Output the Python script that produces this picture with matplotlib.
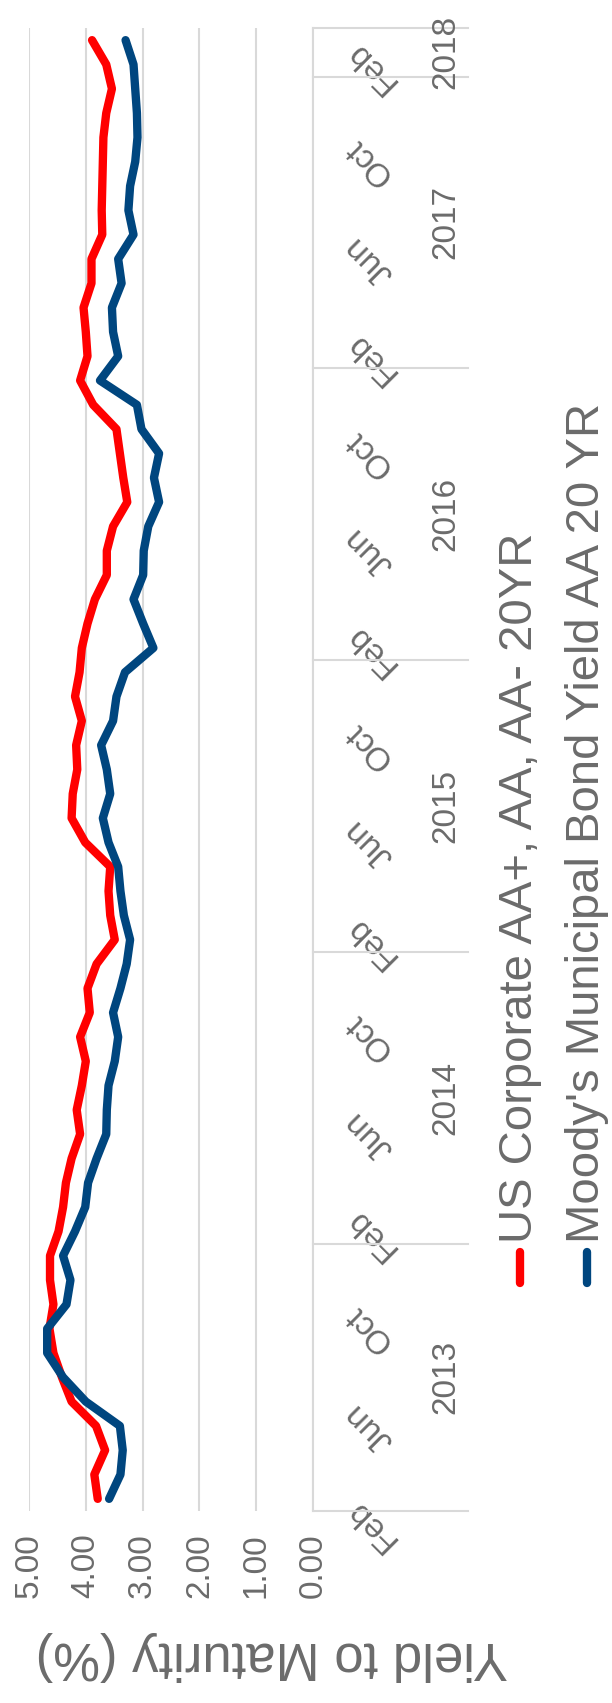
import matplotlib
matplotlib.use('Agg')
import matplotlib.pyplot as plt
import matplotlib.transforms as mtransforms
from matplotlib.lines import Line2D

plt.rcParams['font.family'] = ['Liberation Sans', 'DejaVu Sans']

# monthly yields, Feb 2013 .. Feb 2018
corporate = [3.79, 3.85, 3.66, 3.82, 4.25, 4.42, 4.57, 4.64, 4.57, 4.63,
             4.63, 4.48, 4.40, 4.35, 4.25, 4.10, 4.16, 4.07, 4.00, 4.10,
             3.93, 3.97, 3.81, 3.49, 3.57, 3.60, 3.57, 4.01, 4.25, 4.23,
             4.15, 4.17, 4.07, 4.19, 4.11, 4.07, 3.97, 3.84, 3.63, 3.63,
             3.52, 3.27, 3.34, 3.40, 3.46, 3.87, 4.10, 3.97, 4.00, 4.04,
             3.90, 3.90, 3.71, 3.72, 3.71, 3.70, 3.69, 3.64, 3.54, 3.64,
             3.89]
municipal = [3.59, 3.39, 3.35, 3.40, 4.00, 4.40, 4.68, 4.68, 4.34, 4.27,
             4.40, 4.19, 4.01, 3.96, 3.81, 3.64, 3.63, 3.60, 3.49, 3.43,
             3.52, 3.39, 3.28, 3.22, 3.33, 3.39, 3.43, 3.60, 3.70, 3.57,
             3.63, 3.73, 3.52, 3.46, 3.31, 2.81, 2.99, 3.16, 2.99, 2.98,
             2.90, 2.71, 2.80, 2.71, 3.02, 3.10, 3.75, 3.43, 3.52, 3.54,
             3.37, 3.43, 3.16, 3.25, 3.22, 3.13, 3.09, 3.10, 3.13, 3.16,
             3.30]
month_labels = ['Feb', 'Jun', 'Oct'] * 5 + ['Feb']
years = ['2013', '2014', '2015', '2016', '2017', '2018']
months_in_year = [11, 12, 12, 12, 12, 2]
series_names = ['US Corporate AA+, AA, AA- 20YR',
                "Moody's Municipal Bond Yield AA 20 YR"]
colors = ['#ff0000', '#00467f']
value_ticks = [5, 4, 3, 2, 1, 0]

gray = '#6b6b6b'
grid_gray = '#d9d9d9'
W, H = 612, 1703

fig = plt.figure(figsize=(W / 100, H / 100), dpi=100)
ax = fig.add_axes([29 / W, 192 / H, 284 / W, 1483 / H])

idx = list(range(len(corporate)))
for vals, c, z in zip([corporate, municipal], colors, [3, 4]):
    ax.plot(vals, idx, color=c, lw=6, solid_capstyle='round',
            solid_joinstyle='round', zorder=z)

ax.set_xlim(5, 0)
ax.set_ylim(-0.5, len(corporate) - 0.5)

ax.set_xticks(value_ticks)
ax.set_xticklabels([f'{v:.2f}' for v in value_ticks])
ax.tick_params(axis='x', length=0, labelrotation=90, pad=16,
               labelsize=24, labelcolor=gray)
ax.grid(axis='x', color=grid_gray, lw=1.5)
ax.set_axisbelow(True)

for s in ['top', 'left', 'bottom']:
    ax.spines[s].set_visible(False)
ax.spines['right'].set_color(grid_gray)
ax.spines['right'].set_linewidth(1.5)

# month labels on the date axis
ax.yaxis.tick_right()
ax.set_yticks(idx[::4])
ax.set_yticklabels(month_labels)
ax.tick_params(axis='y', length=0, pad=31.5, labelsize=24, labelcolor=gray)
for lab in ax.get_yticklabels():
    lab.set_rotation(135)
    lab.set_rotation_mode('anchor')
    lab.set_ha('right')
    lab.set_va('baseline')

# year groups with separators
trans = mtransforms.blended_transform_factory(ax.transAxes, ax.transData)
start = 0
for yr, n in zip(years, months_in_year):
    ax.plot([1, 1.546], [start - 0.5, start - 0.5], transform=trans,
            color=grid_gray, lw=1.5, clip_on=False)
    ax.text(1.468, start + (n - 1) / 2, yr, transform=trans, rotation=90,
            ha='center', va='center', fontsize=24, color=gray)
    start += n
ax.plot([1, 1.546], [start - 0.5, start - 0.5], transform=trans,
        color=grid_gray, lw=1.5, clip_on=False)

# legend, drawn sideways
for name, c, xp in zip(series_names, colors, [520, 587]):
    fig.add_artist(Line2D([xp / W, xp / W], [1 - 1283 / H, 1 - 1252 / H],
                          transform=fig.transFigure, color=c, lw=6,
                          solid_capstyle='round'))
    fig.text(xp / W, 1 - 1243 / H, name, rotation=90, ha='center',
             va='bottom', fontsize=34, color=gray)

fig.text(272 / W, 1 - 1656 / H, 'Yield to Maturity (%)', rotation=180,
         ha='center', va='center', fontsize=38, color=gray)

fig.savefig('out.png', dpi=100)
